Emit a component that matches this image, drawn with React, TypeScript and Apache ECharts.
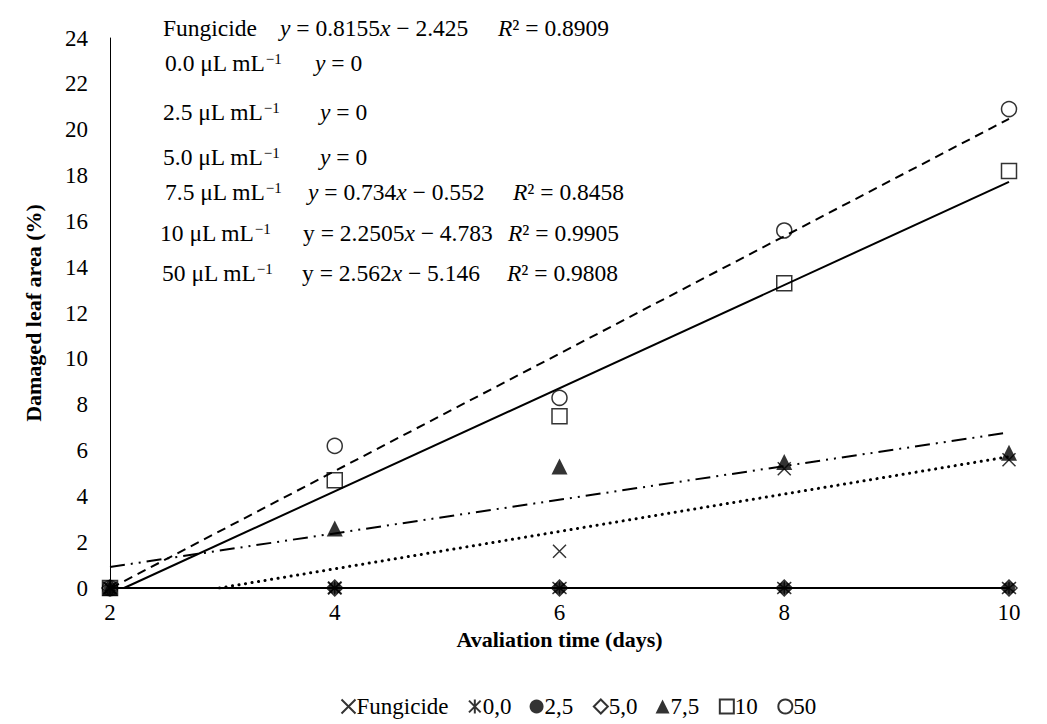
import React, { useEffect, useRef } from "react";
import * as echarts from "echarts";

const days = [2, 4, 6, 8, 10];
const fungicide = [0, 0, 1.6, 5.2, 5.6];
const c00 = [0, 0, 0, 0, 0];
const c25 = [0, 0, 0, 0, 0];
const c50 = [0, 0, 0, 0, 0];
const c75 = [0, 2.6, 5.3, 5.5, 5.9];
const c10 = [0, 4.7, 7.5, 13.3, 18.2];
const c500 = [0, 6.2, 8.3, 15.6, 20.9];

// regression coefficients printed on the chart (slope, intercept)
const fitFungicide = [0.8155, -2.425];
const fit75 = [0.734, -0.552];
const fit10 = [2.2505, -4.783];
const fit50 = [2.562, -5.146];

const yTicks = [0, 24, 2];
const xTicks = [2, 10, 2];
const legendNames = ["Fungicide", "0,0", "2,5", "5,0", "7,5", "10", "50"];

const FONT = "'Liberation Serif', 'Times New Roman', serif";

function fitLine(fit: number[]) {
  const [a, b] = fit;
  const x0 = Math.max(2, -b / a);
  const x1 = 10;
  return [
    [x0, Math.max(0, a * x0 + b)],
    [x1, a * x1 + b],
  ];
}

const pts = (v: number[]) => days.map((d, i) => [d, v[i]]);

export default function App() {
  const ref = useRef<HTMLDivElement>(null);
  useEffect(() => {
    const chart = echarts.init(ref.current!, undefined, { renderer: "svg" });
    const black = "#000";
    const FS = 23.5;
    const lineBase = (name: string, data: any, lineStyle: any) => ({
      type: "line",
      name: name,
      data,
      symbol: "none",
      silent: true,
      lineStyle: { color: black, width: 2, ...lineStyle },
      z: 2,
    });
    const rich = {
      n: { fontFamily: FONT, fontSize: FS, color: black },
      i: { fontFamily: FONT, fontSize: FS, color: black, fontStyle: "italic" },
      s: { fontFamily: FONT, fontSize: 15, color: black, verticalAlign: "top", lineHeight: 16 },
    };
    const txt = (x: number, y: number, t: string) => ({
      type: "text",
      x,
      y,
      style: { text: t, rich, verticalAlign: "middle", fontFamily: FONT, fontSize: FS, fill: black },
    });
    const conc = (x: number, y: number, c: string) => txt(x, y, `{n|${c} μL mL}{s|−1}`);
    chart.setOption({
      animation: false,
      textStyle: { fontFamily: FONT, color: black },
      grid: { left: 110, right: 38, top: 38, bottom: 136 },
      xAxis: {
        type: "value",
        min: xTicks[0],
        max: xTicks[1],
        interval: xTicks[2],
        name: "Avaliation time (days)",
        nameLocation: "middle",
        nameGap: 34,
        nameTextStyle: { fontFamily: FONT, fontSize: 22, fontWeight: "bold", color: black },
        axisLine: { lineStyle: { color: black, width: 2 } },
        axisTick: { show: false },
        splitLine: { show: false },
        axisLabel: { fontFamily: FONT, fontSize: 23, color: black, margin: 13 },
      },
      yAxis: {
        type: "value",
        min: yTicks[0],
        max: yTicks[1],
        interval: yTicks[2],
        name: "Damaged leaf area (%)",
        nameLocation: "middle",
        nameGap: 66,
        nameTextStyle: { fontFamily: FONT, fontSize: 22, fontWeight: "bold", color: black },
        axisLine: { show: true, lineStyle: { color: black, width: 1 } },
        axisTick: { show: false },
        splitLine: { show: false },
        axisLabel: { fontFamily: FONT, fontSize: 23, color: black, margin: 22 },
      },
      legend: {
        top: 690,
        left: 334,
        itemWidth: 14,
        itemHeight: 14,
        itemGap: 18,
        textStyle: { fontFamily: FONT, fontSize: 23, color: black, padding: [0, 0, 0, -4] },
        data: legendNames,
      },
      series: [
        lineBase("t0", [[2, 0], [10, 0]], { type: "solid" }),
        lineBase("tf", fitLine(fitFungicide), { type: [0.1, 6.5], cap: "round", width: 3 }),
        lineBase("t75", fitLine(fit75), { type: [15, 6, 2, 6, 2, 6] }),
        lineBase("t10", fitLine(fit10), { type: "solid" }),
        lineBase("t50", fitLine(fit50), { type: [9, 6] }),
        {
          type: "scatter",
          name: legendNames[0],
          data: pts(fungicide),
          symbol: "path://M0,0L10,10M10,0L0,10",
          symbolSize: 13,
          itemStyle: { color: "none", borderColor: black, borderWidth: 1.5 },
          z: 5,
        },
        {
          type: "scatter",
          name: legendNames[1],
          data: pts(c00),
          symbol: "path://M0,0L10,10M10,0L0,10M5,-1L5,11",
          symbolSize: 14,
          itemStyle: { color: "none", borderColor: black, borderWidth: 1.5 },
          z: 5,
        },
        {
          type: "scatter",
          name: legendNames[2],
          data: pts(c25),
          symbol: "circle",
          symbolSize: 12,
          itemStyle: { color: black },
          z: 5,
        },
        {
          type: "scatter",
          name: legendNames[3],
          data: pts(c50),
          symbol: "diamond",
          symbolSize: 16,
          itemStyle: { color: "none", borderColor: black, borderWidth: 1.5 },
          z: 5,
        },
        {
          type: "scatter",
          name: legendNames[4],
          data: pts(c75),
          symbol: "triangle",
          symbolSize: 16,
          itemStyle: { color: black },
          z: 5,
        },
        {
          type: "scatter",
          name: legendNames[5],
          data: pts(c10),
          symbol: "rect",
          symbolSize: 15,
          itemStyle: { color: "none", borderColor: black, borderWidth: 1.5 },
          z: 5,
        },
        {
          type: "scatter",
          name: legendNames[6],
          data: pts(c500),
          symbol: "circle",
          symbolSize: 15,
          itemStyle: { color: "none", borderColor: black, borderWidth: 1.5 },
          z: 5,
        },
      ],
      graphic: [
        txt(163, 28, "{n|Fungicide}"),
        txt(280, 28, "{i|y}{n| = 0.8155}{i|x}{n| − 2.425}"),
        txt(498, 28, "{i|R}{n|² = 0.8909}"),
        conc(165, 63, "0.0"),
        txt(315, 63, "{i|y}{n| = 0}"),
        conc(163, 112, "2.5"),
        txt(320, 112, "{i|y}{n| = 0}"),
        conc(163, 157, "5.0"),
        txt(320, 157, "{i|y}{n| = 0}"),
        conc(165, 192, "7.5"),
        txt(308, 192, "{i|y}{n| = 0.734}{i|x}{n| − 0.552}"),
        txt(513, 192, "{i|R}{n|² = 0.8458}"),
        conc(160, 233, "10"),
        txt(303, 233, "{n|y = 2.2505}{i|x}{n| − 4.783}"),
        txt(508, 233, "{i|R}{n|² = 0.9905}"),
        conc(162, 273, "50"),
        txt(302, 273, "{n|y = 2.562}{i|x}{n| − 5.146}"),
        txt(507, 273, "{i|R}{n|² = 0.9808}"),
      ],
    });
    return () => chart.dispose();
  }, []);
  return (
    <div
      ref={ref}
      style={{ position: "fixed", left: 0, top: 0, width: 1047, height: 724, background: "#fff" }}
    />
  );
}
